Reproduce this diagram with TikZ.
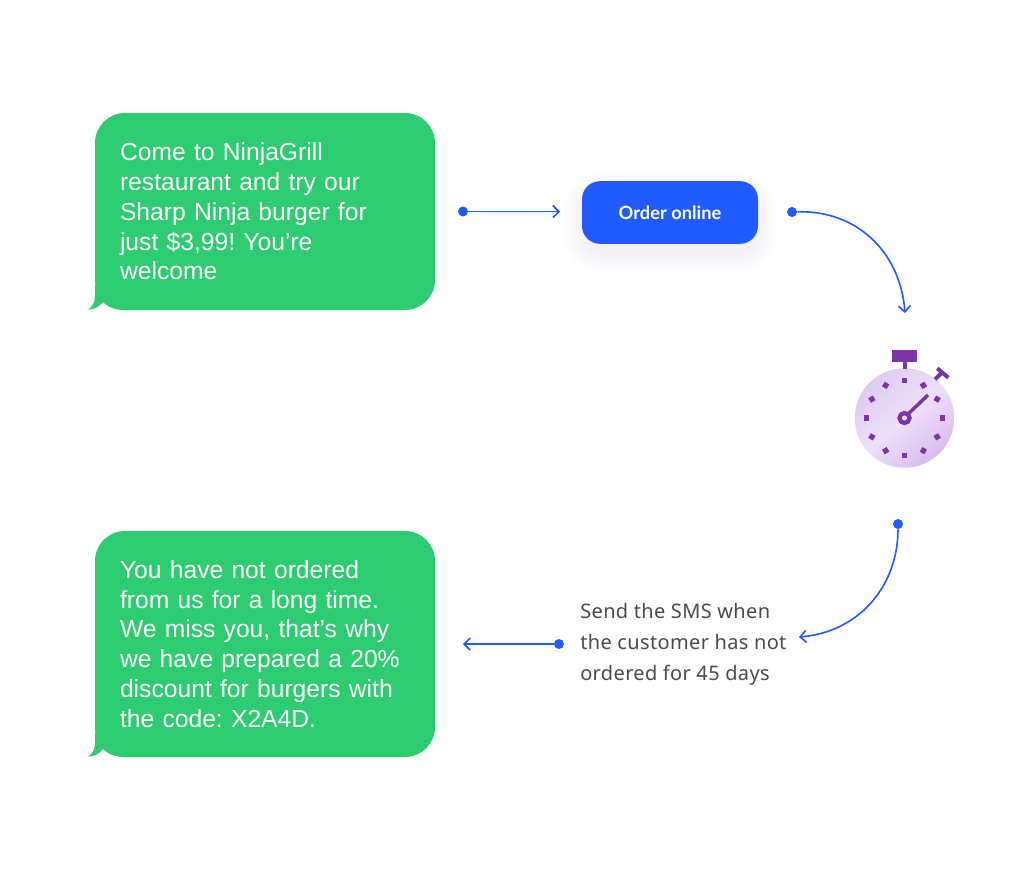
\documentclass[tikz,border=0pt]{standalone}
\usepackage{fontspec}
\setmainfont{Liberation Sans}
\newfontfamily\bubblefont[WordSpace=0.76]{Liberation Sans}
\newfontfamily\notefont[LetterSpace=1.8]{Noto Sans}
\newfontfamily\btnfont{Lato}
\usetikzlibrary{arrows.meta,positioning,calc}
\definecolor{bubblegreen}{HTML}{2ECC71}
\definecolor{linkblue}{HTML}{1F5BFF}
\definecolor{notegrey}{HTML}{4A4A4F}
\definecolor{clockpurple}{HTML}{7B35A8}
\definecolor{clocka}{HTML}{DFCBF1}
\definecolor{clockb}{HTML}{EDE0F9}
\definecolor{clockc}{HTML}{D8BDEE}
\tikzset{
  x=0.75pt,y=-0.75pt,
  bubble/.style={fill=bubblegreen,rounded corners=22.5pt,minimum width=255pt,text width=217.5pt,align=left,inner sep=0pt,text=white,
    font=\bubblefont\fontsize{18.5pt}{22.3pt}\selectfont},
  tail/.style={fill=bubblegreen},
  button/.style={fill=linkblue,rounded corners=13.5pt,minimum width=132pt,minimum height=47pt,inner sep=0pt,text=white,font=\btnfont\bfseries\fontsize{13.7pt}{15pt}\selectfont},
  note/.style={text=notegrey,align=left,inner sep=0pt,font=\notefont\fontsize{15pt}{23.25pt}\selectfont},
  dotend/.style={circle,fill=linkblue,minimum size=7.5pt,inner sep=0pt},
  conn/.style={draw=linkblue,line width=1.2pt,-{Straight Barb[length=4.5pt,width=9pt,line width=1.2pt]}},
  tick/.style={fill=clockpurple,minimum size=4pt,inner sep=0pt},
}
\begin{document}
\frenchspacing
\begin{tikzpicture}
\useasboundingbox (0,0) rectangle (1024,879);
\fill[white] (0,0) rectangle (1024,879);
% bubbles
\path[tail] (95,285) -- (95,296) .. controls (95,303) and (92,307) .. (88,309.5) .. controls (94,310) and (100,306) .. (103,302) .. controls (109,308) and (117,310) .. (125,310) -- (125,285) -- cycle;
\node[bubble,minimum height=147.75pt] (b1) at (265,211.5) {Come to NinjaGrill\\restaurant and try our\\Sharp Ninja burger for\\just \$3,99! You’re\\welcome};
\path[tail] (95,732) -- (95,743) .. controls (95,750) and (92,754) .. (88,756.5) .. controls (94,757) and (100,753) .. (103,749) .. controls (109,755) and (117,757) .. (125,757) -- (125,732) -- cycle;
\node[bubble,minimum height=169.5pt] (b2) at (265,644) {You have not ordered\\from us for a long time.\\We miss you, that’s why\\we have prepared a 20\%\\discount for burgers with\\the code: X2A4D.};
% button shadow
\foreach \g in {18,15,12,9,6,3,0}{
  \fill[rounded corners=14pt+0.75pt*\g,fill=clockpurple,fill opacity=0.008] (582-\g,181+10-\g) rectangle (758+\g,244+10+\g);
}
\node[button] (btn) at (670,212.5) {Order online};
% clock
\shade[top color=clocka,bottom color=clockc,middle color=clockb,shading angle=40] (904.5,418) circle (37.3pt);
\coordinate (cc) at (904.5,418);
\fill[clockpurple] (892,350) rectangle (917.3,362.3);
\fill[clockpurple] (902.5,362) rectangle (907,369);
\draw[clockpurple,line width=3pt] (935,379.3) -- (942,372.5);
\draw[clockpurple,line width=3pt] (937.3,368.3) -- (948.3,377.7);
\foreach \a in {0,30,...,330}{
  \node[tick,rotate=\a] (t\a) at ($(cc)+(\a:37.7)$) {};
}
\draw[clockpurple,line width=2.6pt] (907,415) -- (928,395);
\node[circle,draw=clockpurple,line width=3.2pt,fill=clockb,minimum size=7.5pt,inner sep=0pt] (hub) at (904.5,418) {};
% note
\node[note,anchor=west] (txt) at (580,644) {Send the SMS when\\the customer has not\\ordered for 45 days};
% connector ends
\node[dotend] (d1) at (463,211.5) {};
\coordinate (e1) at (560,211.5);
\node[dotend] (d2) at (792,212) {};
\coordinate (e2) at (905,313);
\node[dotend] (d3) at (898,524) {};
\coordinate (e3) at (799,637);
\node[dotend] (d4) at (559,644) {};
\coordinate (e4) at (463,644);
\draw[conn] (d1) -- (e1);
\draw[conn] (d2) .. controls (855,210) and (900,250) .. (e2);
\draw[conn] (d3) .. controls (898,585) and (860,632) .. (e3);
\draw[conn] (d4) -- (e4);
\end{tikzpicture}
\end{document}
